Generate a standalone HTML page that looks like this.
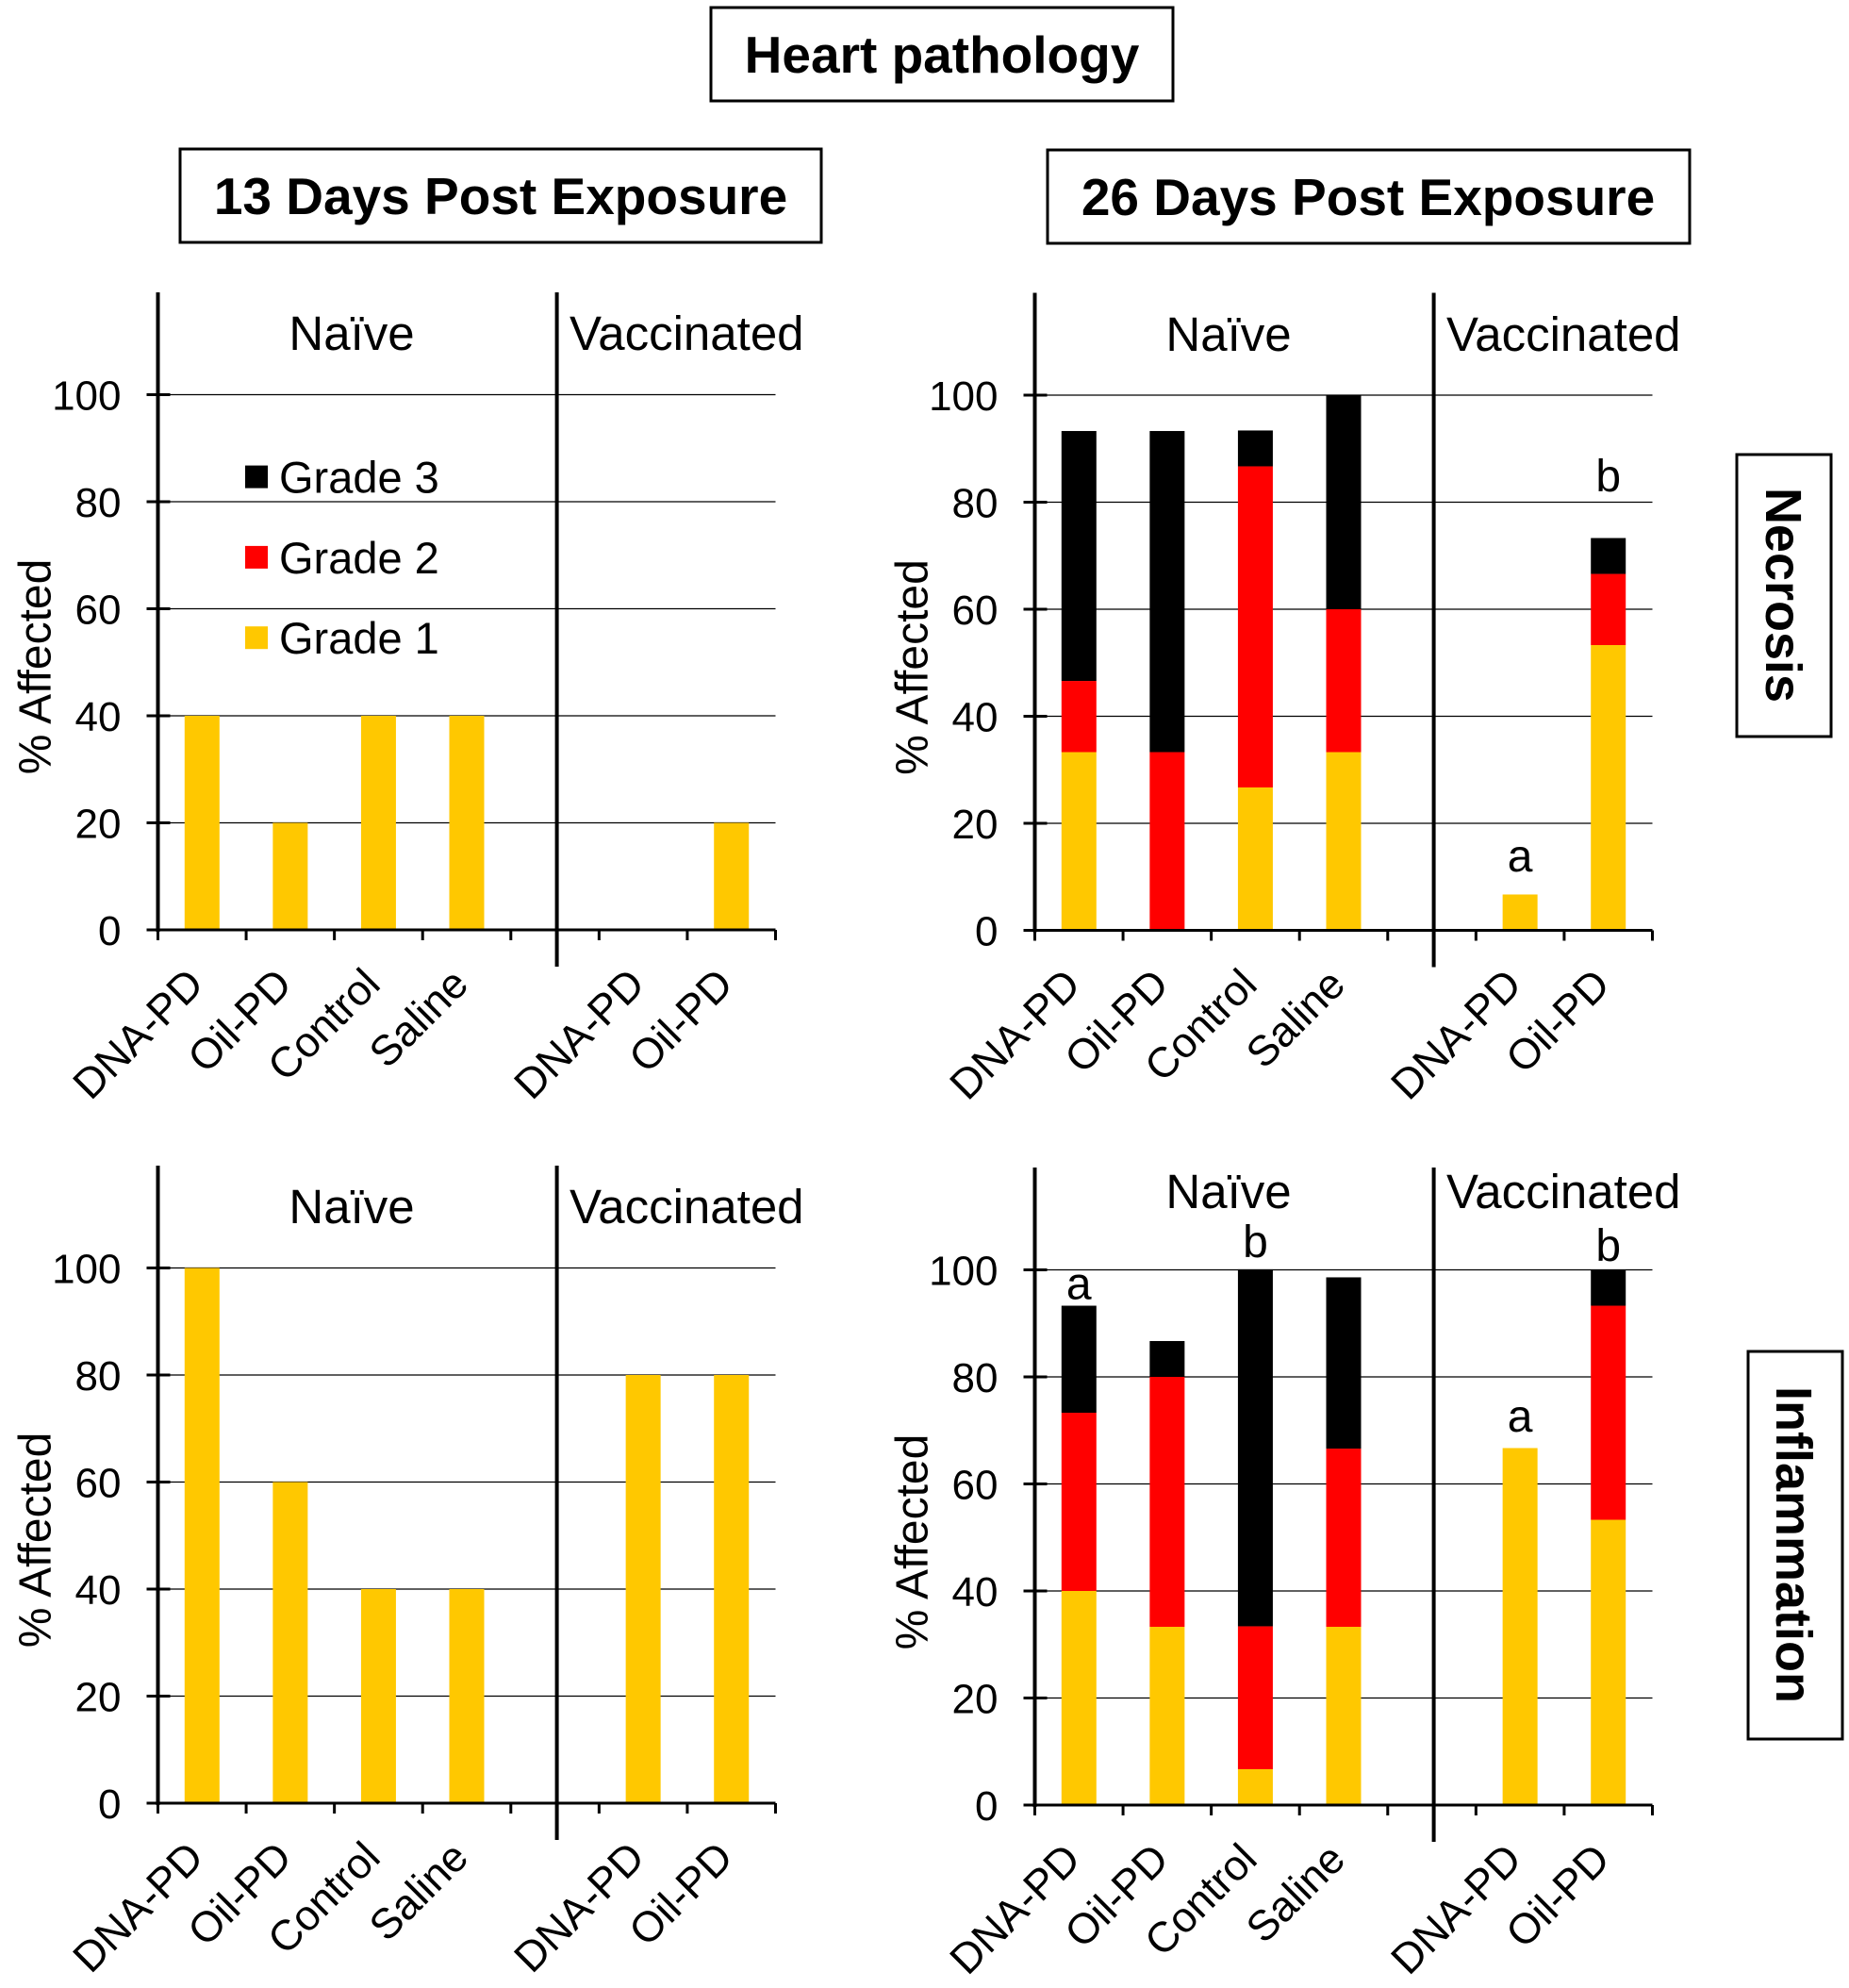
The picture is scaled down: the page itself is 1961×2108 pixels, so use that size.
<!DOCTYPE html>
<html><head><meta charset="utf-8"><title>Heart pathology</title>
<style>
html,body{margin:0;padding:0;background:#fff;}
svg{display:block;font-family:"Liberation Sans",Arial,sans-serif;}
</style></head>
<body>
<svg id="chart" width="1961" height="2108" viewBox="0 0 1961 2108" xmlns="http://www.w3.org/2000/svg">
  <g>
    <rect x="754" y="8" width="490" height="99" fill="none" stroke="#000" stroke-width="3"/>
    <text x="999" y="77" font-size="55" font-weight="bold" text-anchor="middle">Heart pathology</text>
  </g>
  <g>
    <rect x="191" y="158" width="680" height="99" fill="none" stroke="#000" stroke-width="3"/>
    <text x="531" y="227" font-size="55" font-weight="bold" text-anchor="middle">13 Days Post Exposure</text>
  </g>
  <g>
    <rect x="1111" y="159" width="681" height="99" fill="none" stroke="#000" stroke-width="3"/>
    <text x="1451" y="228" font-size="55" font-weight="bold" text-anchor="middle">26 Days Post Exposure</text>
  </g>
  <g>
    <rect x="1842" y="482" width="100" height="299" fill="none" stroke="#000" stroke-width="3"/>
    <text transform="translate(1873,631) rotate(90)" font-size="54" font-weight="bold" text-anchor="middle">Necrosis</text>
  </g>
  <g>
    <rect x="1854" y="1433" width="100" height="411" fill="none" stroke="#000" stroke-width="3"/>
    <text transform="translate(1884,1638) rotate(90)" font-size="54" font-weight="bold" text-anchor="middle">Inflammation</text>
  </g>
  <g id="panels"></g>
</svg>
<script>
// ---- data ----
const categories = ["DNA-PD","Oil-PD","Control","Saline","","DNA-PD","Oil-PD"];
const groupLabels = ["Naïve","Vaccinated"];
const yTicks = [0,20,40,60,80,100];
const seriesNames = ["Grade 1","Grade 2","Grade 3"];
const seriesColors = ["#FFC800","#FF0000","#000000"];

// 13 days necrosis
const nec13Grade1 = [40,20,40,40,null,0,20];
const nec13Grade2 = [0,0,0,0,null,0,0];
const nec13Grade3 = [0,0,0,0,null,0,0];
// 26 days necrosis
const nec26Grade1 = [33.3,0,26.7,33.3,null,6.7,53.3];
const nec26Grade2 = [13.3,33.3,60,26.7,null,0,13.3];
const nec26Grade3 = [46.7,60,6.7,40,null,0,6.7];
const nec26Letters = ["","","","",null,"a","b"];
const nec26LetterAt = [0,0,0,0,null,11,82];
// 13 days inflammation
const inf13Grade1 = [100,60,40,40,null,80,80];
const inf13Grade2 = [0,0,0,0,null,0,0];
const inf13Grade3 = [0,0,0,0,null,0,0];
// 26 days inflammation
const inf26Grade1 = [40,33.3,6.7,33.3,null,66.7,53.3];
const inf26Grade2 = [33.3,46.7,26.7,33.3,null,0,40];
const inf26Grade3 = [20,6.7,66.7,32,null,0,6.7];
const inf26Letters = ["a","","b","",null,"a","b"];
const inf26LetterAt = [94.5,0,102.4,0,null,69.8,101.7];

const NS = "http://www.w3.org/2000/svg";
const root = document.getElementById("panels");
function mk(tag, attrs, parent, txt){
  const e = document.createElementNS(NS, tag);
  for (const k in attrs) e.setAttribute(k, attrs[k]);
  if (txt !== undefined) e.textContent = txt;
  parent.appendChild(e);
  return e;
}

function drawPanel(p){
  const g = mk("g", {}, root);
  
  
  const x0 = p.ox + 167.5, x1 = p.ox + 822.5, y0 = p.y0, yTop = p.y0 - 676;
  const span = 567.5;
  const slot = (x1 - x0) / categories.length;
  const sy = v => y0 - v / 100 * span;
  const cx = i => x0 + slot * (i + 0.5);

  yTicks.forEach(t => {
    if (t === 0) return;
    const l = mk("line", {x1:x0, x2:x1, y1:sy(t), y2:sy(t), stroke:"#000", "stroke-width":1.3}, g);
    
    
  });
  const stacks = [p.s1, p.s2, p.s3];
  categories.forEach((c, i) => {
    if (p.s1[i] === null) return;
    let base = 0;
    stacks.forEach((s, k) => {
      const v = s[i];
      if (v > 0) {
        const r = mk("rect", {x:cx(i)-18.5, y:sy(base+v), width:37, height:sy(base)-sy(base+v), fill:seriesColors[k]}, g);
        
        
      }
      base += v;
    });
  });
  if (p.letters) {
    p.letters.forEach((L, i) => {
      if (!L) return;
      const t = mk("text", {x:cx(i), y:sy(p.letterAt[i]), "font-size":48, "text-anchor":"middle"}, g, L);
      
      
    });
  }
  const ya = mk("line", {x1:x0, x2:x0, y1:yTop, y2:y0+2, stroke:"#000", "stroke-width":4}, g);
  
  
  const xa = mk("line", {x1:x0, x2:x1, y1:y0, y2:y0, stroke:"#000", "stroke-width":3}, g);
  
  
  const sx = p.ox + 590.6;
  const sep = mk("line", {x1:sx, x2:sx, y1:yTop, y2:y0+39, stroke:"#000", "stroke-width":4}, g);
  
  
  yTicks.forEach(t => {
    const l = mk("line", {x1:x0-12, x2:x0+13, y1:sy(t), y2:sy(t), stroke:"#000", "stroke-width":3}, g);
    
    
    const tx = mk("text", {x:x0-39, y:sy(t)+16, "font-size":44, "text-anchor":"end"}, g, String(t));
    
    
  });
  for (let i = 0; i <= categories.length; i++) {
    const xx = x0 + slot * i;
    const l = mk("line", {x1:xx, x2:xx, y1:y0, y2:y0+11, stroke:"#000", "stroke-width":3}, g);
    
    
  }
  categories.forEach((c, i) => {
    if (!c) return;
    const ex = cx(i) + 4, ey = y0 + 60;
    const t = mk("text", {x:ex, y:ey, "font-size":45, "text-anchor":"end", transform:`rotate(-45 ${ex} ${ey})`}, g, c);
    
    
  });
  const gn = mk("text", {x:p.ox+373, y:p.groupY, "font-size":51, "text-anchor":"middle"}, g, groupLabels[0]);
  
  
  const gv = mk("text", {x:p.ox+604, y:p.groupY, "font-size":51, "text-anchor":"start"}, g, groupLabels[1]);
  
  
  const ytx = p.ox + 38, yty = y0 - 279;
  const yt = mk("text", {x:ytx, y:yty, "font-size":48, "text-anchor":"middle", transform:`rotate(-90 ${ytx} ${yty})`, "dominant-baseline":"central"}, g, "% Affected");
  
  
  if (p.legend) {
    const lg = mk("g", {}, g);
    
    
    [2,1,0].forEach((k, j) => {
      const ly = 505.6 + j * 85.3;
      const e = mk("g", {}, lg);
      
      
      mk("rect", {x:p.ox+260, y:ly-12, width:24, height:24, fill:seriesColors[k]}, e);
      mk("text", {x:p.ox+296, y:ly+17, "font-size":47}, e, seriesNames[k]);
    });
  }
}

drawPanel({name:"panel-necrosis-13-days", ox:0, y0:986, groupY:371, s1:nec13Grade1, s2:nec13Grade2, s3:nec13Grade3, legend:true});
drawPanel({name:"panel-necrosis-26-days", ox:930, y0:986.5, groupY:372, s1:nec26Grade1, s2:nec26Grade2, s3:nec26Grade3, letters:nec26Letters, letterAt:nec26LetterAt});
drawPanel({name:"panel-inflammation-13-days", ox:0, y0:1912, groupY:1297, s1:inf13Grade1, s2:inf13Grade2, s3:inf13Grade3});
drawPanel({name:"panel-inflammation-26-days", ox:930, y0:1914, groupY:1281, s1:inf26Grade1, s2:inf26Grade2, s3:inf26Grade3, letters:inf26Letters, letterAt:inf26LetterAt});
</script>
</body></html>
